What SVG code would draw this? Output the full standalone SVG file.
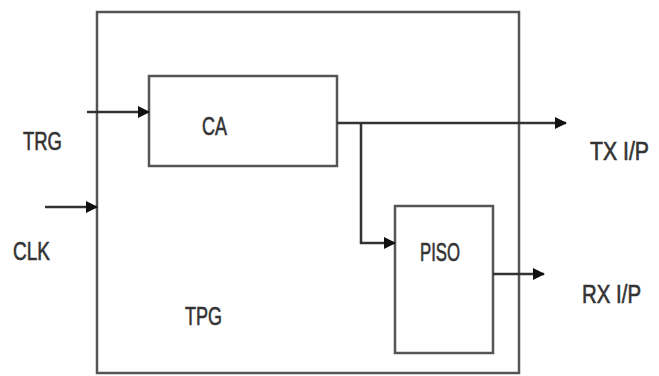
<svg xmlns="http://www.w3.org/2000/svg" width="659" height="376" viewBox="0 0 659 376">
<defs>
<marker id="ah" markerWidth="12" markerHeight="12" refX="11" refY="6" orient="auto" markerUnits="userSpaceOnUse">
<path d="M0,0 L12,6 L0,12 Z" fill="#111"/>
</marker>
<style>
.box{fill:none;stroke:#555;stroke-width:2.5}
.ln{fill:none;stroke:#333;stroke-width:2.5}
.t{font-family:"Liberation Sans",Arial,sans-serif;font-size:25px;fill:#333;stroke:#333;stroke-width:0.6}
</style>
</defs>
<rect width="659" height="376" fill="#fff"/>
<g id="TPG">
<rect class="box" x="97" y="12" width="422" height="361"/>
<text class="t" x="185" y="325" textLength="37" lengthAdjust="spacingAndGlyphs">TPG</text>
</g>
<g id="CA">
<rect class="box" x="149" y="76" width="188" height="90"/>
<text class="t" x="202" y="135" textLength="25" lengthAdjust="spacingAndGlyphs">CA</text>
</g>
<g id="PISO">
<rect class="box" x="395" y="206" width="98" height="147"/>
<text class="t" x="420" y="261" textLength="40" lengthAdjust="spacingAndGlyphs">PISO</text>
</g>
<g id="labels">
<text class="t" x="23" y="150" textLength="39" lengthAdjust="spacingAndGlyphs">TRG</text>
<text class="t" x="13" y="260" textLength="37" lengthAdjust="spacingAndGlyphs">CLK</text>
<text class="t" x="590" y="160" textLength="59" lengthAdjust="spacingAndGlyphs">TX I/P</text>
<text class="t" x="582" y="303" textLength="59" lengthAdjust="spacingAndGlyphs">RX I/P</text>
</g>
<g id="connectors">
<line class="ln" x1="87" y1="112" x2="149" y2="112" marker-end="url(#ah)"/>
<line class="ln" x1="45" y1="207" x2="97" y2="207" marker-end="url(#ah)"/>
<line class="ln" x1="337" y1="123" x2="566" y2="123" marker-end="url(#ah)"/>
<polyline class="ln" points="361,123 361,243 395,243" marker-end="url(#ah)"/>
<line class="ln" x1="493" y1="274" x2="544" y2="274" marker-end="url(#ah)"/>
</g>
</svg>
